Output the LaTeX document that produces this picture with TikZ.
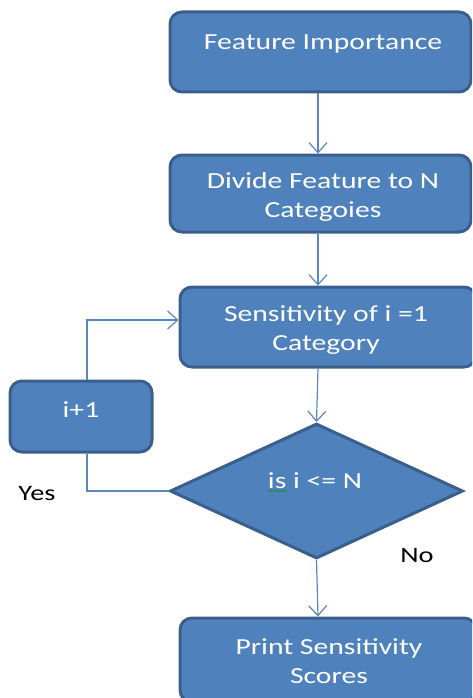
\documentclass[tikz,border=0pt]{standalone}
\usepackage{fontspec}
\usepackage{graphicx}
\setmainfont{Carlito}
\usetikzlibrary{shapes.geometric,arrows.meta,decorations.pathmorphing}
\definecolor{boxfill}{HTML}{4F81BD}
\definecolor{boxline}{HTML}{3A5F8C}
\definecolor{conn}{HTML}{5A87C0}
\newcommand{\widetxt}[1]{\scalebox{1.29}[1]{#1}}
\tikzset{
  box/.style={draw=boxline, line width=3pt, fill=boxfill, rounded corners=12pt, inner sep=0pt},
  dia/.style={diamond, draw=boxline, line width=3pt, fill=boxfill, inner sep=0pt},
  lbl/.style={text=white, font=\fontsize{23}{29.5}\selectfont, align=center, inner sep=0pt},
  plain/.style={text=black, font=\fontsize{22}{22}\selectfont, inner sep=0pt},
  conn/.style={draw=conn, line width=1.2pt},
  arr/.style={conn, -{Straight Barb[length=10pt,width=18pt,line width=1.2pt]}}
}
\begin{document}
\begin{tikzpicture}[x=1pt,y=-1pt]
\useasboundingbox (0,0) rectangle (472,698);
\begin{scope}
\clip (0,0) rectangle (472,698);
% boxes
\node[box, minimum width=301pt, minimum height=80pt] (b1) at (320.5,52) {};
\node[box, minimum width=301pt, minimum height=77pt] (b2) at (320.5,193.5) {};
\node[box, minimum width=296pt, minimum height=80pt] (b3) at (328,327) {};
\node[box, minimum width=142pt, minimum height=71pt] (bi) at (81,416.5) {};
\node[dia, minimum width=293pt, minimum height=135pt] (d) at (316.5,491) {};
\node[box, minimum width=296pt, minimum height=84pt] (b4) at (328,660) {};
% texts
\begin{scope}
\clip (172,14) rectangle (469,90);
\node[lbl] (t1) at (323,44) {\widetxt{Feature Importance}};
\end{scope}
\begin{scope}
\clip (172,157) rectangle (469,221);
\node[lbl, anchor=north] (t2) at (323,172) {\widetxt{Divide Feature to N}\\\widetxt{Categoies}};
\end{scope}
\begin{scope}
\clip (182,289) rectangle (472,353);
\node[lbl, anchor=north] (t3) at (326,305) {\widetxt{Sensitivity of i =1}\\\widetxt{Category}};
\end{scope}
\node[lbl] (ti) at (81,410) {\widetxt{i+1}};
\node[lbl] (td) at (315,481) {\widetxt{is i <= N}};
\draw[green!60!black, line width=0.6pt, decorate, decoration={snake, amplitude=1pt, segment length=4pt}] (268,491) -- (287,491);
\begin{scope}
\clip (182,620) rectangle (472,698);
\node[lbl, anchor=north] (t4) at (329,638) {\widetxt{Print Sensitivity}\\\widetxt{Scores}};
\end{scope}
\node[plain] (yes) at (37,494) {\widetxt{Yes}};
\node[plain] (no) at (417,556) {\widetxt{No}};
% connectors
\coordinate (c1) at (87,491);
\coordinate (c2) at (87,320);
\draw[arr] (b1.south -| 318,0) -- (b2.north -| 318,0);
\draw[arr] (b2.south -| 318,0) -- (b3.north -| 318,0);
\draw[arr] (b3.south -| 318,0) -- (d.north);
\draw[arr] (d.south) -- (b4.north -| 318,0);
\draw[conn] (d.west) -- (c1) -- (c1 |- bi.south);
\draw[arr] (c1 |- bi.north) -- (c2) -- (c2 -| b3.west);
\end{scope}
\end{tikzpicture}
\end{document}
